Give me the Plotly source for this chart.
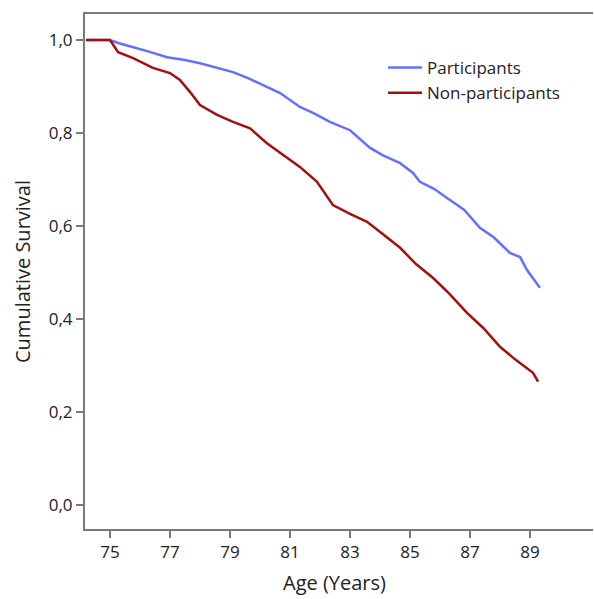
import plotly.graph_objects as go

# Participants (blue)
part_age = [74.2, 75.0, 75.3, 75.77, 76.3, 76.9, 77.5, 78.0, 78.5, 79.1, 79.6, 80.23, 80.67,
            81.33, 81.8, 82.33, 83.0, 83.67, 84.1, 84.67, 85.1, 85.33, 85.8, 86.33, 86.8,
            87.33, 87.8, 88.33, 88.67, 88.9, 89.1, 89.33]
part_surv = [1.0, 1.0, 0.993, 0.985, 0.975, 0.963, 0.957, 0.95, 0.942, 0.931, 0.918, 0.899, 0.886,
             0.856, 0.842, 0.824, 0.806, 0.768, 0.752, 0.735, 0.714, 0.695, 0.680, 0.656, 0.635,
             0.596, 0.575, 0.542, 0.533, 0.505, 0.488, 0.467]

# Non-participants (dark red)
non_age = [74.2, 75.0, 75.27, 75.77, 76.43, 77.0, 77.33, 77.67, 78.0, 78.57, 79.1, 79.67, 80.23,
           80.77, 81.33, 81.9, 82.43, 83.0, 83.57, 84.1, 84.67, 85.2, 85.77, 86.3, 86.9,
           87.45, 88.0, 88.5, 89.1, 89.27]
non_surv = [1.0, 1.0, 0.974, 0.961, 0.94, 0.929, 0.914, 0.888, 0.86, 0.839, 0.824, 0.81, 0.778,
            0.753, 0.727, 0.695, 0.645, 0.626, 0.609, 0.582, 0.553, 0.518, 0.488, 0.455, 0.413,
            0.38, 0.34, 0.313, 0.284, 0.265]

x_ticks = [75, 77, 79, 81, 83, 85, 87, 89]
y_ticks = [0.0, 0.2, 0.4, 0.6, 0.8, 1.0]

FONT = "Open Sans"
AXC = "#7a7a7a"
TXT = "#222222"

W, H = 594, 599
ML, MR, MT, MB = 85, 1, 14, 70
pw = W - ML - MR
ph = H - MT - MB


def px(xp):
    return (xp - ML) / pw


def py(yp):
    return 1 - (yp - MT) / ph


fig = go.Figure()
fig.add_trace(go.Scatter(x=part_age, y=part_surv, mode="lines", name="Participants",
                         line=dict(color="#6470ff", width=2.5)))
fig.add_trace(go.Scatter(x=non_age, y=non_surv, mode="lines", name="Non-participants",
                         line=dict(color="#a01212", width=2.5)))

fig.update_layout(
    width=W, height=H,
    margin=dict(l=ML, r=MR, t=MT, b=MB),
    paper_bgcolor="white", plot_bgcolor="white",
    separators=",.",
    font=dict(family=FONT, size=17, color=TXT),
    showlegend=True,
    legend=dict(x=px(383), y=py(50), xanchor="left", yanchor="top",
                bgcolor="rgba(0,0,0,0)", font=dict(size=17, color=TXT),
                tracegroupgap=0, itemwidth=34),
    xaxis=dict(range=[74.167, 91.1], tickvals=x_ticks, showgrid=False, zeroline=False,
               showline=True, linecolor=AXC, linewidth=2, mirror=True,
               ticks="outside", ticklen=7, tickcolor=AXC, tickwidth=2,
               tickfont=dict(size=17, color=TXT)),
    yaxis=dict(range=[-0.052, 1.056], tickvals=y_ticks, tickformat=".1f", showgrid=False,
               zeroline=False, showline=True, linecolor=AXC, linewidth=2,
               ticks="outside", ticklen=7, tickcolor=AXC, tickwidth=2,
               tickfont=dict(size=17, color=TXT)),
    annotations=[
        dict(text="Age (Years)", x=px(334), y=py(582), xref="paper", yref="paper",
             xanchor="center", yanchor="middle", showarrow=False,
             font=dict(size=20, color=TXT)),
        dict(text="Cumulative Survival", x=px(22), y=py(272), xref="paper", yref="paper",
             xanchor="center", yanchor="middle", showarrow=False,
             textangle=-90, font=dict(size=20, color=TXT)),
    ],
)

fig.write_html("out.html", config={"displayModeBar": False},
               post_script="document.body.style.margin='0';document.body.style.padding='0';")
